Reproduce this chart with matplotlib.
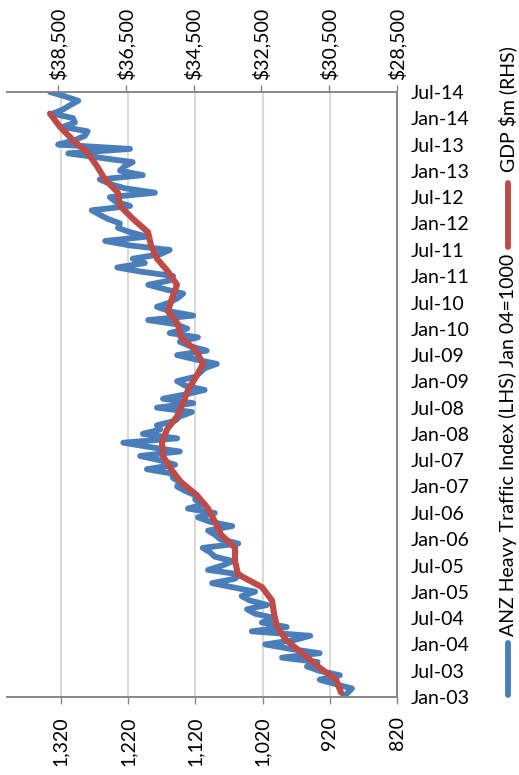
import pandas as pd
import matplotlib.pyplot as plt
import matplotlib.dates as mdates
from matplotlib.lines import Line2D
from matplotlib.ticker import FuncFormatter

plt.rcParams['font.family'] = ['Lato', 'DejaVu Sans']

# ============================================
# data
# ============================================

# ANZ heavy traffic index, monthly Jan-03 .. Jul-14 (LHS)
traffic_dates = pd.date_range('2003-01-01', '2014-07-01', freq='MS')
traffic_index = [
    900, 893, 887, 912, 935, 905, 935, 954, 938, 991,
    935, 979, 1016, 972, 949, 1036, 984, 1021, 1001, 1031,
    1043, 1013, 1039, 1051, 1031, 1065, 1095, 1061, 1054, 1101,
    1080, 1064, 1091, 1098, 1109, 1056, 1083, 1091, 1101, 1065,
    1098, 1116, 1091, 1131, 1106, 1120, 1120, 1135, 1147, 1143,
    1153, 1155, 1192, 1150, 1172, 1202, 1143, 1187, 1227, 1147,
    1198, 1172, 1177, 1150, 1143, 1125, 1177, 1123, 1168, 1135,
    1106, 1135, 1147, 1120, 1113, 1106, 1088, 1120, 1147, 1103,
    1128, 1143, 1116, 1158, 1132, 1150, 1190, 1123, 1158, 1177,
    1158, 1146, 1138, 1165, 1190, 1158, 1153, 1202, 1236, 1195,
    1213, 1172, 1158, 1217, 1254, 1192, 1217, 1235, 1232, 1250,
    1262, 1274, 1217, 1239, 1247, 1180, 1225, 1247, 1262, 1198,
    1232, 1225, 1213, 1262, 1309, 1217, 1324, 1299, 1284, 1280,
    1317, 1299, 1302, 1332, 1317, 1306, 1294, 1314, 1336,
]

# GDP $m, quarterly (RHS)
gdp_dates = pd.date_range('2003-02-01', '2014-02-01', freq='3MS')
gdp_values = [
    30150, 30298, 30829, 31300, 31772, 32038, 32126, 32185, 32480, 33188,
    33276, 33276, 33689, 33866, 34073, 34397, 34869, 35164, 35400, 35429,
    35282, 34987, 34810, 34662, 34426, 34220, 34426, 34869, 34957, 35252,
    35134, 34987, 35252, 35576, 35753, 35842, 36284, 36668, 36727, 37110,
    37346, 37611, 38054, 38437, 38732,
]

lhs_ticks = [820, 920, 1020, 1120, 1220, 1320]
rhs_ticks = [28500, 30500, 32500, 34500, 36500, 38500]

legend_labels = ['ANZ Heavy Traffic Index (LHS) Jan 04=1000', 'GDP $m (RHS)']

blue = '#4a7ebb'
red = '#be4b48'
grey = '#868686'
fs = 14

# ============================================
# chart is drawn turned on its side: time runs bottom -> top
# ============================================

fig = plt.figure(figsize=(5.19, 7.75), dpi=100)
ax = fig.add_axes([7 / 519, 78 / 775, 390 / 519, 605 / 775])

ax.plot(traffic_index, traffic_dates, color=blue, lw=4.2,
        solid_joinstyle='round', solid_capstyle='round', zorder=3)
ax.set_xlim(1400, 820)
ax.set_ylim(pd.Timestamp('2003-01-01'), pd.Timestamp('2014-07-01'))

ax.set_xticks(lhs_ticks)
ax.xaxis.set_major_formatter(FuncFormatter(lambda v, p: f'{v:,.0f}'))
ax.tick_params(axis='x', direction='out', length=5, width=1, color=grey,
               labelsize=fs, labelrotation=90, pad=9)
ax.grid(axis='x', color='#d9d9d9', lw=1.5, zorder=0)

# date axis on the right
ax.yaxis.tick_right()
ax.yaxis.set_major_locator(mdates.MonthLocator(bymonth=[1, 7]))
ax.yaxis.set_major_formatter(mdates.DateFormatter('%b-%y'))
ax.tick_params(axis='y', length=0, labelsize=fs, pad=10)

ax.spines['left'].set_visible(False)
for s in ['bottom', 'right', 'top']:
    ax.spines[s].set_color(grey)
    ax.spines[s].set_linewidth(1.2)

# GDP on the top axis
ax2 = ax.twiny()
ax2.plot(gdp_values, gdp_dates, color=red, lw=4.4,
         solid_joinstyle='round', solid_capstyle='round', zorder=4)
ax2.set_xlim(40000, 28500)
ax2.set_xticks(rhs_ticks)
ax2.xaxis.set_major_formatter(FuncFormatter(lambda v, p: f'${v:,.0f}'))
ax2.tick_params(axis='x', direction='out', length=5, width=1, color=grey,
                labelsize=fs, labelrotation=90, pad=4)
ax2.spines['left'].set_visible(False)
for s in ['bottom', 'right', 'top']:
    ax2.spines[s].set_color(grey)
    ax2.spines[s].set_linewidth(1.2)

# ============================================
# legend, also turned on its side
# ============================================

lx = 508 / 519
fig.add_artist(Line2D([lx, lx], [1 - 695 / 775, 1 - 643 / 775], color=blue,
                      lw=4.2, solid_capstyle='round', transform=fig.transFigure))
fig.text(lx, 1 - 636 / 775, legend_labels[0], rotation=90, ha='center',
         va='bottom', fontsize=fs)
fig.add_artist(Line2D([lx, lx], [1 - 247 / 775, 1 - 183 / 775], color=red,
                      lw=4.2, solid_capstyle='round', transform=fig.transFigure))
fig.text(lx, 1 - 172 / 775, legend_labels[1], rotation=90, ha='center',
         va='bottom', fontsize=fs)

plt.savefig('out.png', dpi=100)
